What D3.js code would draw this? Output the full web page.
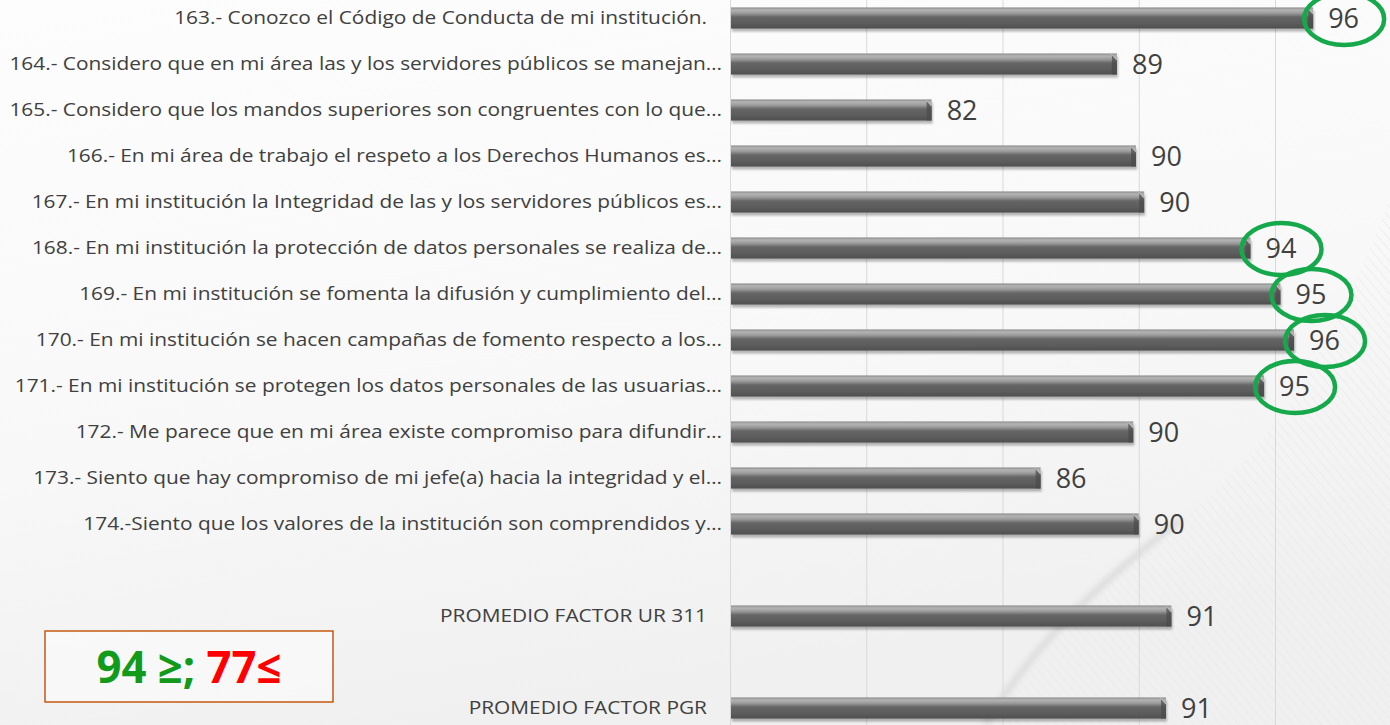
<!DOCTYPE html>
<html>
<head>
<meta charset="utf-8">
<style>
  html, body { margin: 0; padding: 0; background: #fafafa; }
  svg { display: block; }
  .cat { font-family: "Open Sans", sans-serif; font-size: 17.5px; fill: #404040; }
  .val { font-family: "Open Sans", sans-serif; font-size: 27px; fill: #404040; }
  .grid .domain { display: none; }
  .grid line { stroke: #d9d9d9; }
</style>
</head>
<body>
<svg width="1390" height="725"></svg>
<script src="https://d3js.org/d3.v7.min.js"></script>
<script>
// categories, top to bottom
var categories = [
  "163.- Conozco el Código de Conducta de mi institución.",
  "164.- Considero que en mi área las y los servidores públicos se manejan…",
  "165.- Considero que los mandos superiores son congruentes con lo que…",
  "166.- En mi área de trabajo el respeto a los Derechos Humanos es…",
  "167.- En mi institución la Integridad de las y los servidores públicos es…",
  "168.- En mi institución la protección de datos personales se realiza de…",
  "169.- En mi institución se fomenta la difusión y cumplimiento del…",
  "170.- En mi institución se hacen campañas de fomento respecto a los…",
  "171.- En mi institución se protegen los datos personales de las usuarias…",
  "172.- Me parece que en mi área existe compromiso para difundir…",
  "173.- Siento que hay compromiso de mi jefe(a) hacia la integridad y el…",
  "174.-Siento que los valores de la institución son comprendidos y…",
  "PROMEDIO FACTOR UR 311",
  "PROMEDIO FACTOR PGR"
];
var values = [96.4, 89.2, 82.4, 89.9, 90.2, 94.1, 95.2, 95.7, 94.6, 89.8, 86.4, 90.0, 91.2, 91.0];
// thresholds shown in the legend box
var highMark = 94, lowMark = 77;
var axisTicks = [75, 80, 85, 90, 95, 100];

var data = categories.map(function(c, i) { return {cat: c, value: values[i]}; });
// blank rows before each average
var rows = categories.slice(0, 12).concat(["gap1", categories[12], "gap2", categories[13]]);

var svg = d3.select("svg"),
    width = +svg.attr("width"),
    height = +svg.attr("height");

var defs = svg.append("defs");

var bg = defs.append("linearGradient").attr("id", "bg").attr("x1", 0).attr("y1", 0).attr("x2", 0.3).attr("y2", 1);
bg.append("stop").attr("offset", "0%").attr("stop-color", "#fdfdfd");
bg.append("stop").attr("offset", "60%").attr("stop-color", "#f8f8f8");
bg.append("stop").attr("offset", "100%").attr("stop-color", "#f0f0f0");

var hatch = defs.append("pattern").attr("id", "hatch").attr("width", 7).attr("height", 7)
    .attr("patternUnits", "userSpaceOnUse").attr("patternTransform", "rotate(-40)");
hatch.append("line").attr("x1", 0).attr("y1", 0).attr("x2", 0).attr("y2", 7)
    .attr("stroke", "#e8e8e8").attr("stroke-width", 1.5);

var barGrad = defs.append("linearGradient").attr("id", "barGrad").attr("x1", 0).attr("y1", 0).attr("x2", 0).attr("y2", 1);
[["0%", "#8c8c8c"], ["12%", "#b4b4b4"], ["28%", "#9a9a9a"], ["45%", "#666666"], ["80%", "#5a5a5a"], ["100%", "#4e4e4e"]]
  .forEach(function(s) { barGrad.append("stop").attr("offset", s[0]).attr("stop-color", s[1]); });

var shadow = defs.append("filter").attr("id", "shadow").attr("x", "-5%").attr("y", "-50%").attr("width", "110%").attr("height", "200%");
shadow.append("feDropShadow").attr("dx", 1).attr("dy", 3).attr("stdDeviation", 1.3)
    .attr("flood-color", "#000").attr("flood-opacity", 0.28);

var blur = defs.append("filter").attr("id", "blur");
blur.append("feGaussianBlur").attr("stdDeviation", 3);

// background
svg.append("rect").attr("width", width).attr("height", height).attr("fill", "url(#bg)");
svg.append("path")
    .attr("d", "M1390,200 L1390,725 L985,725 C1040,640 1110,570 1180,520 C1250,470 1320,380 1390,200 Z")
    .attr("fill", "url(#hatch)").attr("opacity", 0.8);
svg.append("path")
    .attr("d", "M1180,520 C1090,590 1030,650 985,725")
    .attr("fill", "none").attr("stroke", "#d6d6d6").attr("stroke-width", 5)
    .attr("filter", "url(#blur)");

var x = d3.scaleLinear().domain([75, 100]).range([730, 1411.25]);
var y = d3.scaleBand().domain(rows).range([-5, 731]).paddingInner(0.54).paddingOuter(0.27);

// gridlines
svg.append("g")
    .attr("class", "grid")
    .attr("transform", "translate(0," + height + ")")
    .call(d3.axisBottom(x).tickValues(axisTicks).tickSize(-height).tickFormat(""));

// bars
var bar = svg.append("g").selectAll("g")
  .data(data)
  .enter().append("g")
    .attr("transform", function(d) { return "translate(0," + y(d.cat) + ")"; });

bar.append("rect")
    .attr("x", x(75) + 1)
    .attr("width", function(d) { return x(d.value) - x(75) - 1; })
    .attr("height", y.bandwidth())
    .attr("fill", "url(#barGrad)")
    .attr("filter", "url(#shadow)");

// bevelled end of each bar
bar.append("path")
    .attr("d", function(d) {
      var e = x(d.value), h = y.bandwidth();
      return "M" + (e - 5) + ",0 L" + e + "," + (h * 0.3) + " L" + e + "," + h + " L" + (e - 5) + "," + h + " Z";
    })
    .attr("fill", "#4a4a4a")
    .attr("opacity", 0.7);
bar.append("path")
    .attr("d", function(d) {
      var e = x(d.value);
      return "M" + (e - 6) + ",0 L" + e + "," + (y.bandwidth() * 0.3);
    })
    .attr("stroke", "#bdbdbd").attr("stroke-width", 1.2);

// value labels
bar.append("text")
    .attr("class", "val")
    .attr("x", function(d) { return x(d.value) + 15; })
    .attr("y", y.bandwidth() / 2)
    .attr("dy", "0.36em")
    .text(function(d) { return d3.format(".0f")(d.value); });

// green ellipses around high scores (excluding averages)
bar.filter(function(d, i) { return i < 12 && Math.round(d.value) >= highMark; })
  .append("ellipse")
    .attr("cx", function(d) { return x(d.value) + 15 + 16; })
    .attr("cy", y.bandwidth() / 2 + 1)
    .attr("rx", 40)
    .attr("ry", 26)
    .attr("fill", "none")
    .attr("stroke", "#16a94b")
    .attr("stroke-width", 4.5);

// category labels
var probe = svg.append("text").attr("class", "cat").text(categories[0]);
var sx = 533 / probe.node().getComputedTextLength();
probe.remove();

svg.append("g").selectAll("g")
  .data(data)
  .enter().append("g")
    .attr("transform", function(d) {
      var ax = /…$/.test(d.cat) ? 722 : 707;
      return "translate(" + ax + "," + (y(d.cat) + y.bandwidth() / 2) + ") scale(" + sx + ",1)";
    })
  .append("text")
    .attr("class", "cat")
    .attr("text-anchor", "end")
    .attr("dy", "0.36em")
    .text(function(d) { return d.cat; });

// legend box
var legend = svg.append("g");
legend.append("rect")
    .attr("x", 45).attr("y", 631).attr("width", 288).attr("height", 71)
    .attr("fill", "#fbfbfb").attr("fill-opacity", 0.6)
    .attr("stroke", "#c55a11").attr("stroke-width", 1.5);
var lt = legend.append("text")
    .attr("x", 189).attr("y", 668)
    .attr("dy", "0.35em")
    .attr("text-anchor", "middle")
    .style("font-family", "'Open Sans', sans-serif")
    .style("font-weight", "bold")
    .style("font-size", "44px");
lt.append("tspan").attr("fill", "#129a1a").text(highMark + " ≥; ");
lt.append("tspan").attr("fill", "#ff0000").text(lowMark + "≤");
var lw = lt.node().getComputedTextLength();
lt.attr("transform", "translate(189,0) scale(" + (185 / lw) + ",1) translate(-189,0)");
</script>
</body>
</html>
